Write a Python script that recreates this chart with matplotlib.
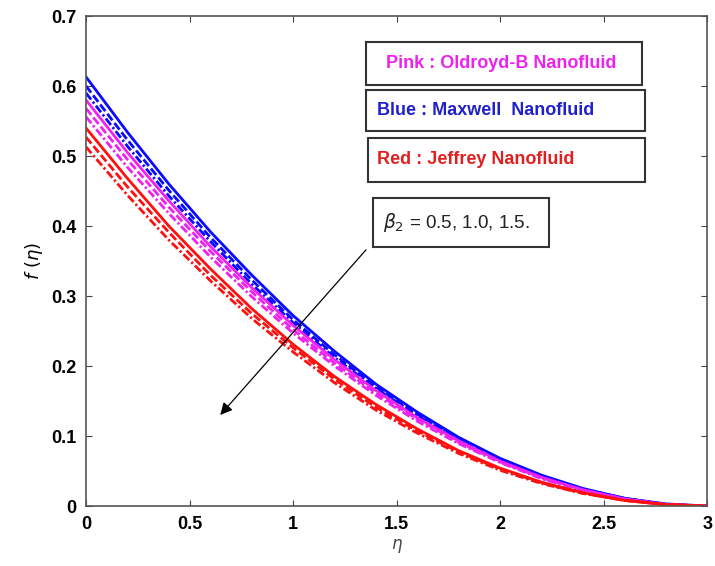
"""Perfil f(eta) para nanofluidos Oldroyd-B, Maxwell y Jeffrey con beta_2 variable."""

import matplotlib

matplotlib.use("Agg")
import matplotlib.pyplot as plt
from matplotlib.patches import Rectangle

plt.rcParams["font.family"] = ["Liberation Sans", "DejaVu Sans"]

# Datos (eta de 0 a 3, paso 0.2)
eta = [0.0, 0.2, 0.4, 0.6, 0.8, 1.0, 1.2, 1.4, 1.6, 1.8, 2.0, 2.2, 2.4, 2.6, 2.8, 3.0]

maxwell_b05 = [0.613, 0.534, 0.460, 0.392, 0.330, 0.272, 0.221, 0.174, 0.134, 0.098, 0.068, 0.044, 0.025, 0.011, 0.003, 0.0]
maxwell_b10 = [0.600, 0.523, 0.451, 0.384, 0.323, 0.266, 0.216, 0.170, 0.131, 0.096, 0.067, 0.043, 0.024, 0.011, 0.002, 0.0]
maxwell_b15 = [0.590, 0.514, 0.443, 0.378, 0.317, 0.262, 0.212, 0.168, 0.129, 0.094, 0.065, 0.042, 0.024, 0.011, 0.002, 0.0]

oldroyd_b05 = [0.580, 0.505, 0.436, 0.371, 0.312, 0.258, 0.209, 0.165, 0.126, 0.093, 0.064, 0.041, 0.023, 0.010, 0.002, 0.0]
oldroyd_b10 = [0.568, 0.495, 0.427, 0.364, 0.306, 0.252, 0.204, 0.161, 0.124, 0.091, 0.063, 0.040, 0.023, 0.010, 0.002, 0.0]
oldroyd_b15 = [0.556, 0.484, 0.418, 0.356, 0.299, 0.247, 0.200, 0.158, 0.121, 0.089, 0.062, 0.039, 0.022, 0.010, 0.002, 0.0]

jeffrey_b05 = [0.540, 0.468, 0.400, 0.339, 0.282, 0.231, 0.185, 0.145, 0.110, 0.079, 0.054, 0.034, 0.019, 0.008, 0.002, 0.0]
jeffrey_b10 = [0.527, 0.456, 0.391, 0.330, 0.275, 0.226, 0.181, 0.141, 0.107, 0.077, 0.053, 0.033, 0.018, 0.008, 0.002, 0.0]
jeffrey_b15 = [0.513, 0.444, 0.380, 0.322, 0.268, 0.220, 0.176, 0.137, 0.104, 0.075, 0.051, 0.032, 0.018, 0.008, 0.002, 0.0]

x_ticks = [0, 0.5, 1, 1.5, 2, 2.5, 3]
x_tick_labels = ["0", "0.5", "1", "1.5", "2", "2.5", "3"]
y_ticks = [0, 0.1, 0.2, 0.3, 0.4, 0.5, 0.6, 0.7]
y_tick_labels = ["0", "0.1", "0.2", "0.3", "0.4", "0.5", "0.6", "0.7"]

AZUL = "#0a0aff"
ROSA = "#ee22ee"
ROJO = "#ff1010"
estilos = ["-", (0, (3.0, 1.2)), (0, (3.0, 1.0, 0.8, 1.0))]

fig = plt.figure(figsize=(7.15, 5.66), dpi=100)
ax = fig.add_axes([0.1203, 0.106, 0.869, 0.8657])

series = [
    (AZUL, [maxwell_b05, maxwell_b10, maxwell_b15]),
    (ROSA, [oldroyd_b05, oldroyd_b10, oldroyd_b15]),
    (ROJO, [jeffrey_b05, jeffrey_b10, jeffrey_b15]),
]
for color, curvas in series:
    for curva, estilo in zip(curvas, estilos):
        ax.plot(eta, curva, color=color, linestyle=estilo, linewidth=2.0)

ax.set_xlim(0, 3)
ax.set_ylim(0, 0.7)
ax.set_xticks(x_ticks)
ax.set_xticklabels(x_tick_labels, fontsize=13, fontweight="bold")
ax.set_yticks(y_ticks)
ax.set_yticklabels(y_tick_labels, fontsize=13, fontweight="bold")
ax.tick_params(direction="in", length=4, width=0.8, top=True, right=True,
               color="#444444", pad=7)
for spine in ax.spines.values():
    spine.set_color("#555555")
    spine.set_linewidth(1.2)

ax.set_xlabel(r"$\eta$", fontsize=12, color="#444444", labelpad=3)
ax.set_ylabel(r"$f\ (\eta)$", fontsize=13, labelpad=4)

# Cajas de texto (leyenda estilo MATLAB)
cajas = [
    ((366, 42, 276, 43), 20, "Pink : Oldroyd-B Nanofluid", ROSA),
    ((366, 90, 279, 41), 11, "Blue : Maxwell  Nanofluid", "#2020cc"),
    ((368, 138, 277, 44), 9, "Red : Jeffrey Nanofluid", "#e02020"),
]
W, H = 715, 566
for (x0, y0, w, h), margen, texto, color in cajas:
    fig.patches.append(Rectangle((x0 / W, 1 - (y0 + h) / H), w / W, h / H,
                                 transform=fig.transFigure, fill=False,
                                 edgecolor="#333333", linewidth=1.5))
    fig.text((x0 + margen) / W, 1 - (y0 + h / 2) / H, texto, color=color,
             fontsize=13, fontweight="bold", va="center", ha="left")

fig.patches.append(Rectangle((373 / W, 1 - 247 / H), 176 / W, 49 / H,
                             transform=fig.transFigure, fill=False,
                             edgecolor="#333333", linewidth=1.5))
fig.text(383 / W, 1 - 222 / H, r"$\beta_2$ = 0.5, 1.0, 1.5.", fontsize=13.5,
         va="center", ha="left", color="#222222")

ax.annotate("", xy=(0.648, 0.13), xytext=(1.352, 0.366),
            arrowprops=dict(arrowstyle="-|>", color="black", lw=0.9,
                            mutation_scale=18, shrinkA=0, shrinkB=0))

fig.savefig("out.png", dpi=100)
